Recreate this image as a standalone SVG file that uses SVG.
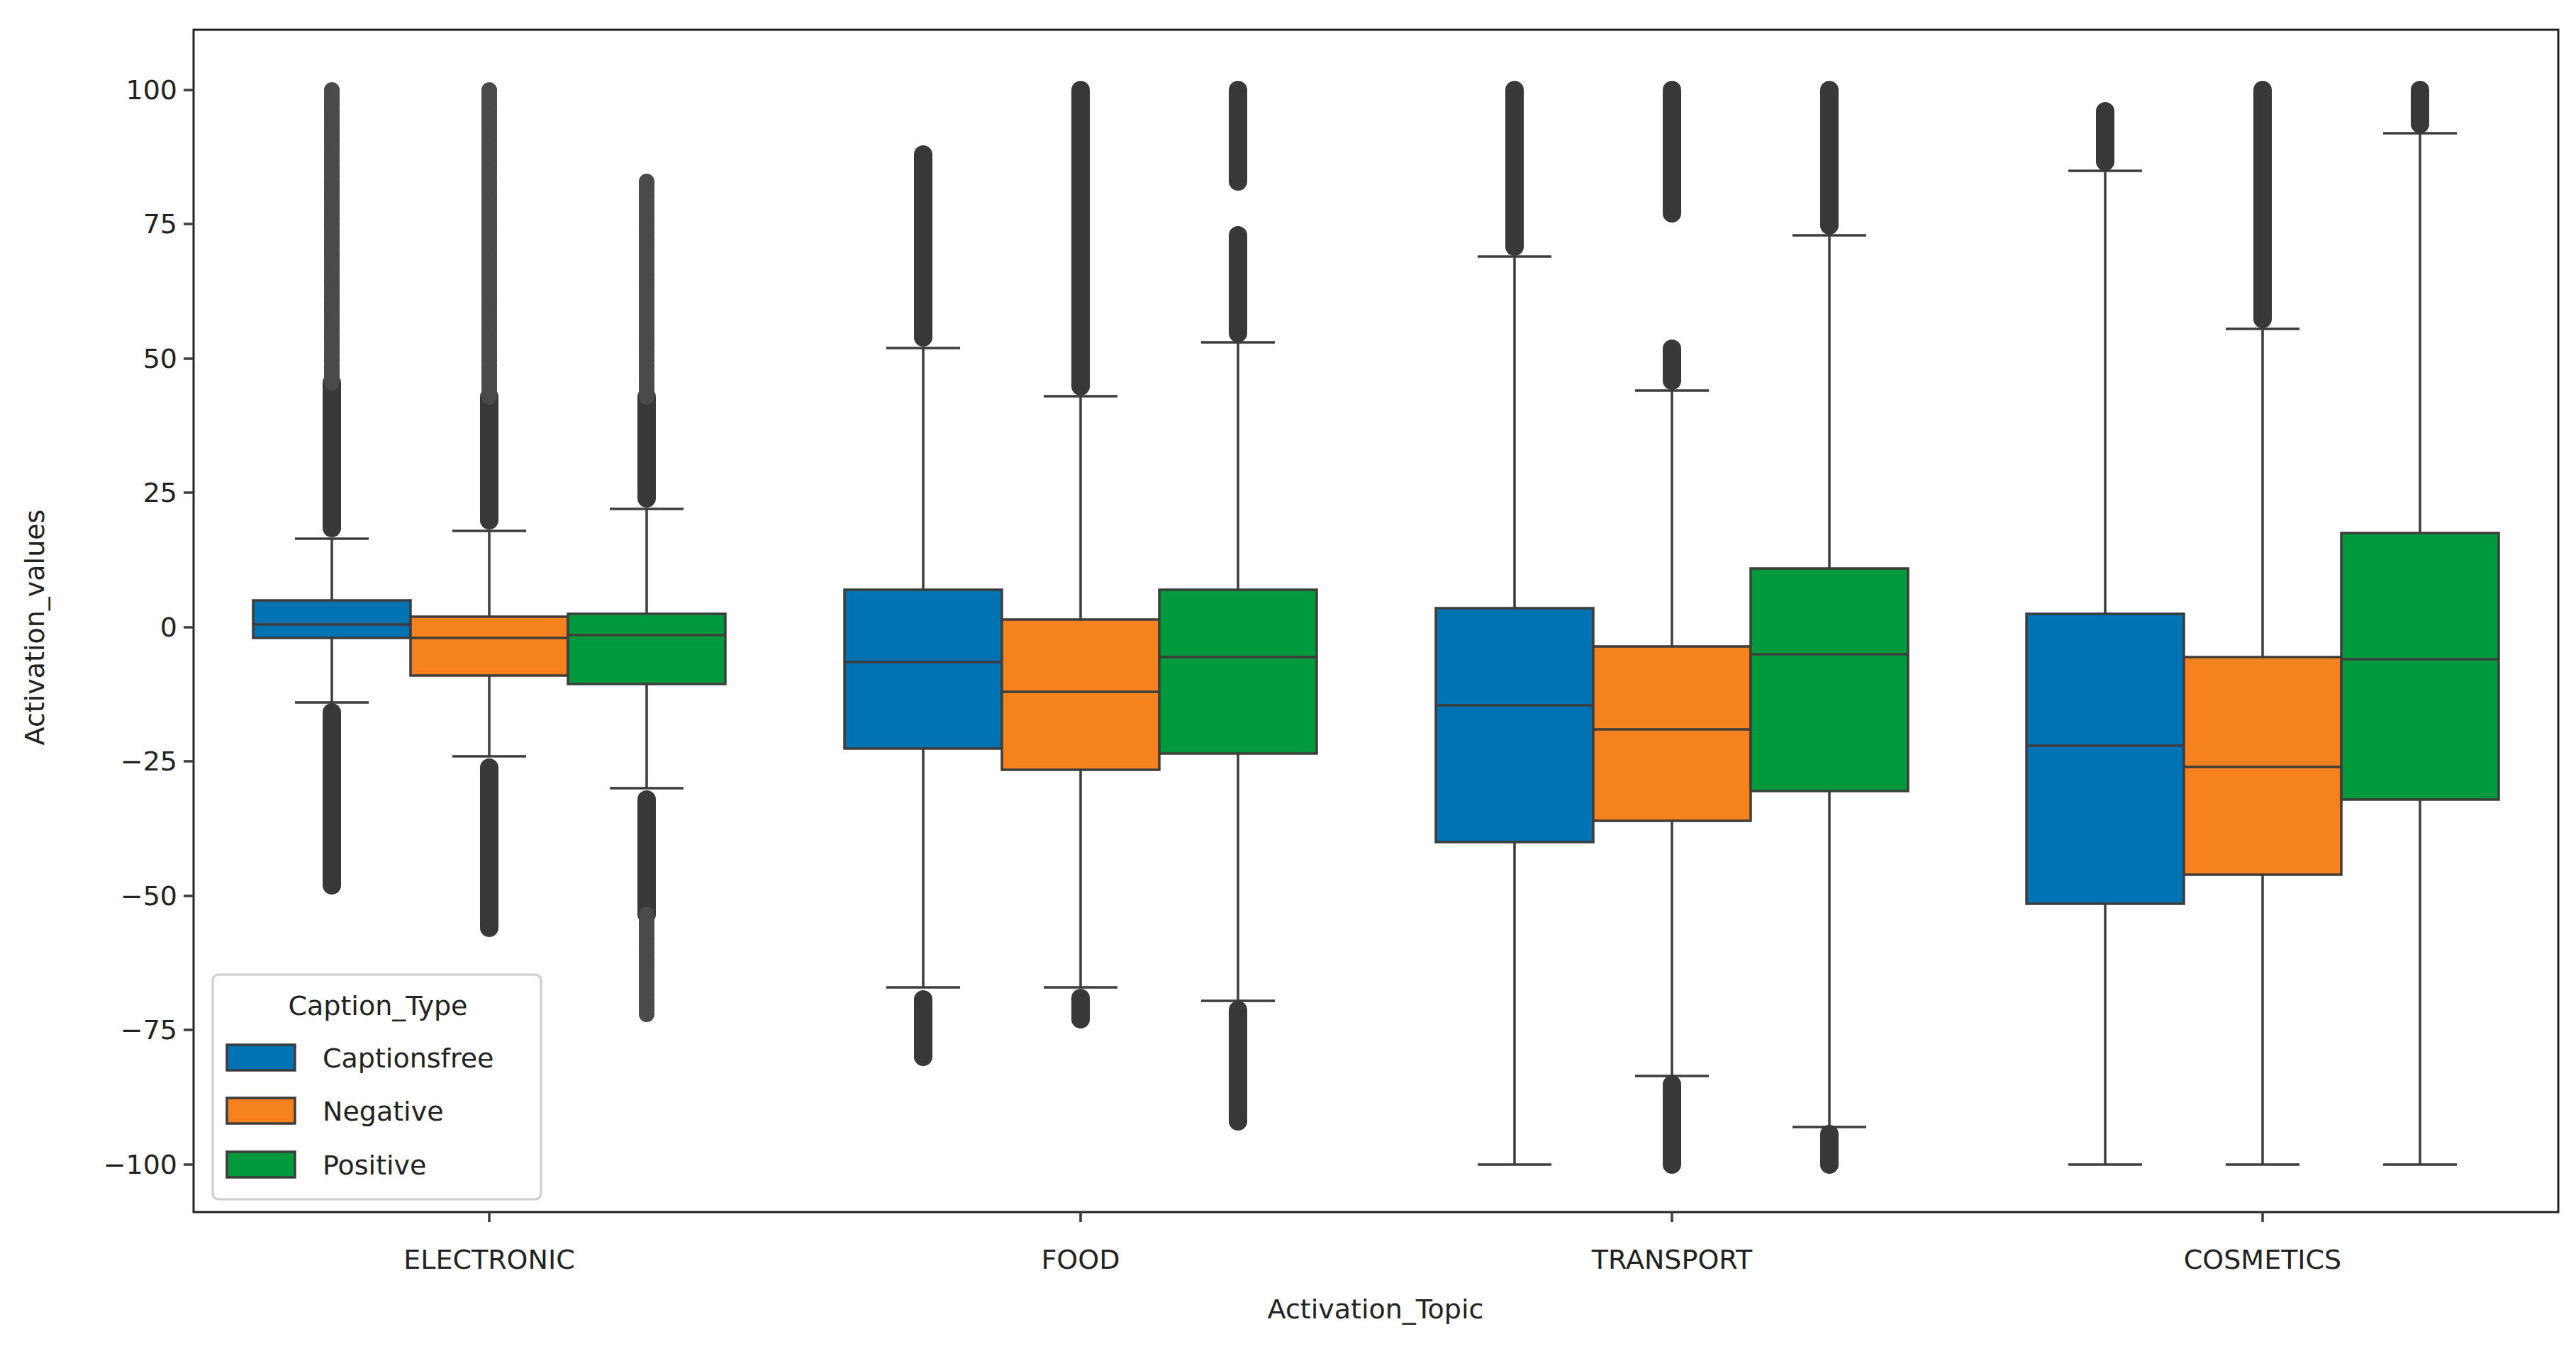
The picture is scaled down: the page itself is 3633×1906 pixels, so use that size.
<svg xmlns="http://www.w3.org/2000/svg" width="3633" height="1906" viewBox="0 0 3633 1906">
<style>
text{font-family:"DejaVu Sans","Liberation Sans",sans-serif;fill:#222}
.t{font-size:38px}
.w{stroke:#3d3d3d;stroke-width:3.5;fill:none}
.b{stroke:#3d3d3d;stroke-width:3.5}
.o{stroke:#383838;stroke-width:26;stroke-linecap:round;fill:none}
.os{stroke:#4a4a4a;stroke-width:22;stroke-linecap:round;fill:none;stroke-dasharray:6 4}
.c0{fill:#0173b2}.c1{fill:#f5821f}.c2{fill:#009a3c}
</style>
<rect width="3633" height="1906" fill="#fff"/>
<g id="axes">
<rect x="273" y="42" width="3335" height="1668" fill="none" stroke="#222" stroke-width="3"/>
<g class="w">
<path d="M259 127H273M259 316H273M259 506H273M259 695H273M259 885H273M259 1074H273M259 1264H273M259 1453H273M259 1643H273"/>
<path d="M690 1710V1724M1524 1710V1724M2358 1710V1724M3191 1710V1724"/>
</g>
<g class="t" text-anchor="end">
<text x="250" y="140">100</text><text x="250" y="329">75</text><text x="250" y="519">50</text><text x="250" y="708">25</text><text x="250" y="898">0</text><text x="250" y="1087">−25</text><text x="250" y="1277">−50</text><text x="250" y="1466">−75</text><text x="250" y="1656">−100</text>
</g>
<g class="t" text-anchor="middle">
<text x="690" y="1790">ELECTRONIC</text><text x="1524" y="1790">FOOD</text><text x="2358" y="1790">TRANSPORT</text><text x="3191" y="1790">COSMETICS</text>
<text x="1940" y="1860">Activation_Topic</text>
<text transform="translate(62 885) rotate(-90)">Activation_values</text>
</g>
</g>
<g id="connectors">
<!-- whiskers and caps -->
<path class="w" d="M468 847V760M416 760H520M468 900V991M416 991H520
M690 870V749M638 749H742M690 953V1067M638 1067H742
M912 866V718M860 718H964M912 965V1112M860 1112H964
M1302 832V491M1250 491H1354M1302 1056V1393M1250 1393H1354
M1524 874V559M1472 559H1576M1524 1086V1393M1472 1393H1576
M1746 832V483M1694 483H1798M1746 1063V1412M1694 1412H1798
M2136 858V362M2084 362H2188M2136 1188V1643M2084 1643H2188
M2358 912V551M2306 551H2410M2358 1158V1518M2306 1518H2410
M2580 802V332M2528 332H2632M2580 1116V1590M2528 1590H2632
M2969 866V241M2917 241H3021M2969 1275V1643M2917 1643H3021
M3191 927V464M3139 464H3243M3191 1234V1643M3139 1643H3243
M3413 752V188M3361 188H3465M3413 1128V1643M3361 1643H3465"/>
<!-- outliers -->
<path class="o" d="M468 745V540M468 1005V1249M690 734V560M690 1083V1309M912 703V560M912 1128V1290
M1302 476V218M1302 1410V1491M1524 545V127M1524 1408V1438M1746 470V332M1746 256V127M1746 1425V1582
M2136 348V127M2358 537V492M2358 301V127M2358 1530V1643M2580 318V127M2580 1600V1643
M2969 228V157M3191 450V127M3413 175V127"/>
<path class="os" d="M468 540V127M690 560V127M912 560V256M912 1290V1431"/>
</g>
<g id="boxes">
<rect class="b c0" x="357" y="847" width="222" height="53"/><path class="w" d="M357 881H579"/>
<rect class="b c1" x="579" y="870" width="222" height="83"/><path class="w" d="M579 900H801"/>
<rect class="b c2" x="801" y="866" width="222" height="99"/><path class="w" d="M801 896H1023"/>
<rect class="b c0" x="1191" y="832" width="222" height="224"/><path class="w" d="M1191 934H1413"/>
<rect class="b c1" x="1413" y="874" width="222" height="212"/><path class="w" d="M1413 976H1635"/>
<rect class="b c2" x="1635" y="832" width="222" height="231"/><path class="w" d="M1635 927H1857"/>
<rect class="b c0" x="2025" y="858" width="222" height="330"/><path class="w" d="M2025 995H2247"/>
<rect class="b c1" x="2247" y="912" width="222" height="246"/><path class="w" d="M2247 1029H2469"/>
<rect class="b c2" x="2469" y="802" width="222" height="314"/><path class="w" d="M2469 923H2691"/>
<rect class="b c0" x="2858" y="866" width="222" height="409"/><path class="w" d="M2858 1052H3080"/>
<rect class="b c1" x="3080" y="927" width="222" height="307"/><path class="w" d="M3080 1082H3302"/>
<rect class="b c2" x="3302" y="752" width="222" height="376"/><path class="w" d="M3302 930H3524"/>
</g>
<g id="legend">
<rect x="300" y="1375" width="463" height="317" rx="8" fill="#fff" fill-opacity="0.85" stroke="#ccc" stroke-width="3"/>
<text class="t" x="533" y="1432" text-anchor="middle">Caption_Type</text>
<rect class="b c0" x="320" y="1474" width="96" height="36"/><text class="t" x="455" y="1506">Captionsfree</text>
<rect class="b c1" x="320" y="1549" width="96" height="36"/><text class="t" x="455" y="1581">Negative</text>
<rect class="b c2" x="320" y="1625" width="96" height="36"/><text class="t" x="455" y="1657">Positive</text>
</g>
</svg>
